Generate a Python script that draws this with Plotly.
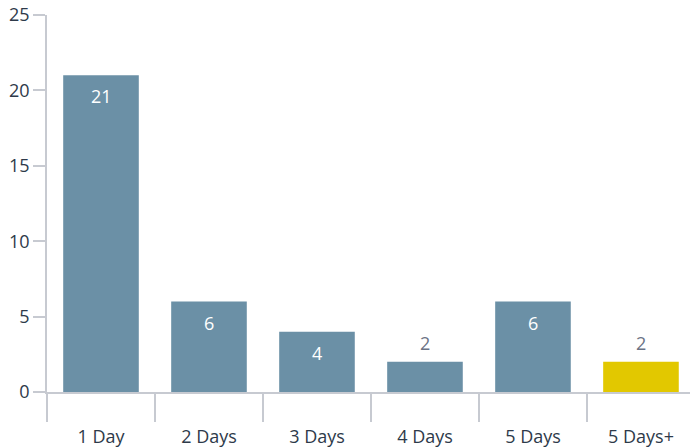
import plotly.graph_objects as go

categories = ["1 Day", "2 Days", "3 Days", "4 Days", "5 Days", "5 Days+"]
values = [21, 6, 4, 2, 6, 2]
bar_colors = ["#6B90A6", "#6B90A6", "#6B90A6", "#6B90A6", "#6B90A6", "#E2C800"]
y_ticks = [0, 5, 10, 15, 20, 25]

FONT = "Open Sans"
fig = go.Figure()
fig.add_trace(go.Bar(x=categories, y=values, marker=dict(color=bar_colors, line=dict(width=0)),
                     hoverinfo="skip"))

annotations = []
for c, v in zip(categories, values):
    inside = v >= 4
    annotations.append(dict(
        x=c, y=v, xref="x", yref="y", text=str(v), showarrow=False,
        yanchor="middle", yshift=-21 if inside else 19,
        font=dict(family=FONT, size=18, color="#FFFFFF" if inside else "#6B7385"),
    ))

fig.update_layout(
    width=690, height=448,
    margin=dict(l=47, r=0, t=15, b=56),
    paper_bgcolor="white", plot_bgcolor="white",
    bargap=0.30, showlegend=False,
    annotations=annotations,
    font=dict(family=FONT, size=18, color="#2E3A4A"),
    xaxis=dict(
        type="category", range=[-0.5, 5.454], tickson="boundaries",
        ticks="outside", ticklen=28, tickwidth=1.5, tickcolor="#C7CAD1",
        ticklabelstandoff=28,
        showline=True, linecolor="#C7CAD1", linewidth=1.5,
        showgrid=False, zeroline=False, fixedrange=True,
        tickfont=dict(family=FONT, size=18, color="#2E3A4A"),
    ),
    yaxis=dict(
        range=[0, 25], tickvals=y_ticks, ticks="outside", ticklen=12,
        tickwidth=1.5, tickcolor="#C7CAD1",
        showline=True, linecolor="#C7CAD1", linewidth=1.5,
        showgrid=False, zeroline=False, fixedrange=True,
        tickfont=dict(family=FONT, size=18, color="#2E3A4A"),
    ),
)

fig.write_html("out.html", config={"displayModeBar": False})
